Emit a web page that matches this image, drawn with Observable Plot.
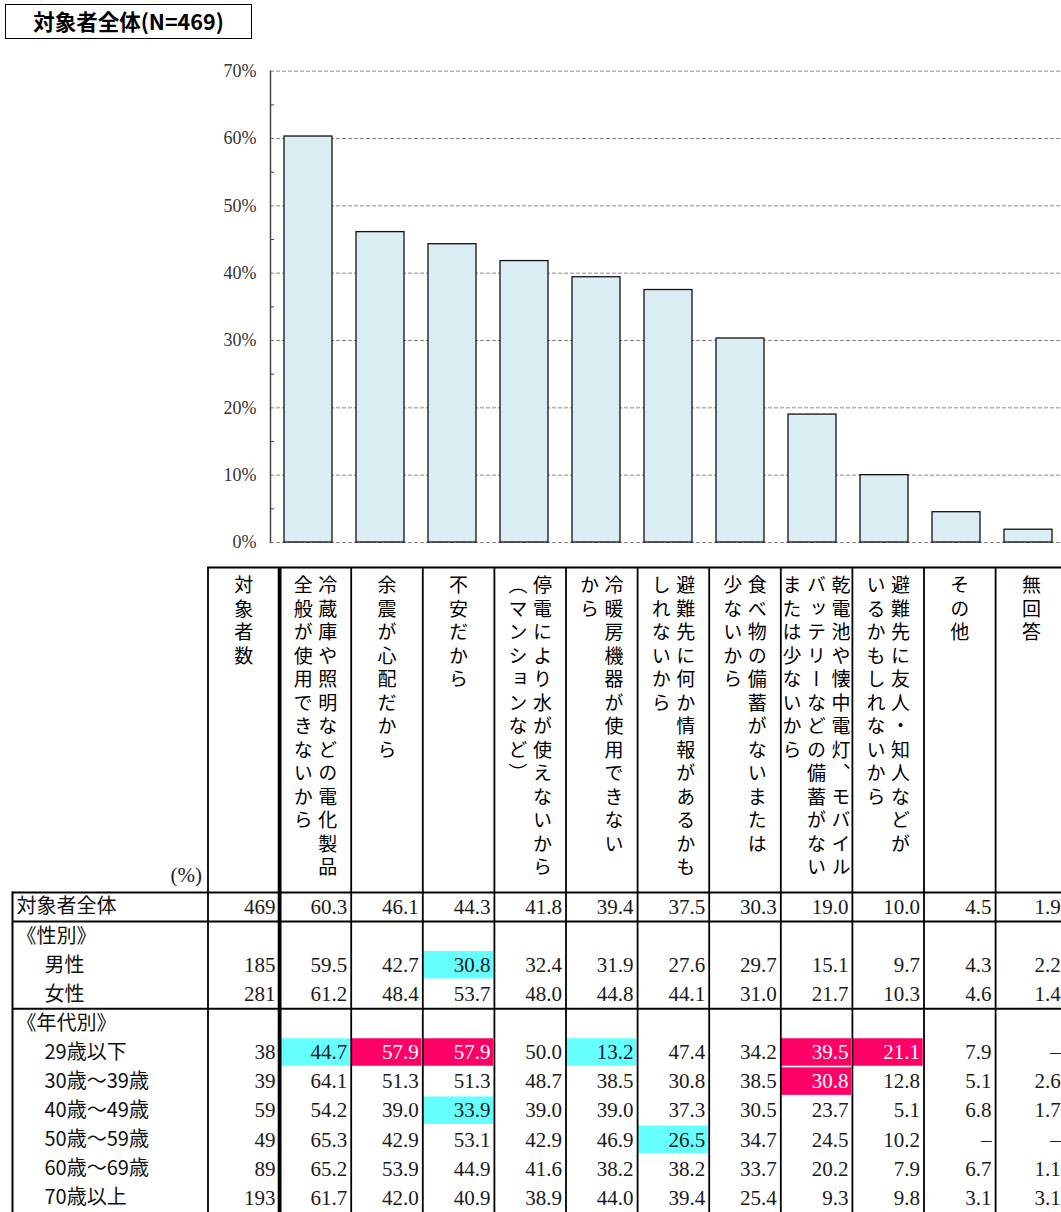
<!DOCTYPE html>
<html>
<head>
<meta charset="utf-8">
<script src="https://cdn.jsdelivr.net/npm/d3@7"></script>
<script src="https://cdn.jsdelivr.net/npm/@observablehq/plot@0.6"></script>
<style>
  html, body { margin: 0; padding: 0; background: #fff; }
  #wrap { position: relative; width: 1061px; height: 1212px; overflow: hidden; background: #fff; }
  #title {
    position: absolute; left: 5px; top: 4px; width: 247px; height: 35px; box-sizing: border-box;
    border: 1.3px solid #000; font-family: "Noto Sans CJK JP", sans-serif; font-weight: bold;
    font-size: 21.5px; line-height: 32px; text-align: center; color: #000; letter-spacing: 0;
  }
  #chart { position: absolute; left: 0; top: 50px; }
  #header { position: absolute; left: 0; top: 560px; }
  #body { position: absolute; left: 0; top: 890px; }
  #wrap svg { max-width: none !important; }
</style>
</head>
<body>
<div id="wrap">
  <div id="title">対象者全体(N=469)</div>
  <div id="chart"></div>
  <div id="header"></div>
  <div id="body"></div>
</div>
<script>
// ---------- data ----------
const answers = [
  "冷蔵庫や照明などの電化製品全般が使用できないから",
  "余震が心配だから",
  "不安だから",
  "停電により水が使えないから（マンションなど）",
  "冷暖房機器が使用できないから",
  "避難先に何か情報があるかもしれないから",
  "食べ物の備蓄がないまたは少ないから",
  "乾電池や懐中電灯、モバイルバッテリーなどの備蓄がないまたは少ないから",
  "避難先に友人・知人などがいるかもしれないから",
  "その他",
  "無回答"
];
const overall = [60.3, 46.1, 44.3, 41.8, 39.4, 37.5, 30.3, 19.0, 10.0, 4.5, 1.9];
const yTicks = [0, 10, 20, 30, 40, 50, 60, 70];
const yMinorTicks = [5, 15, 25, 35, 45, 55, 65];

const headerLines = [
  ["対象者数"],
  ["冷蔵庫や照明などの電化製品", "全般が使用できないから"],
  ["余震が心配だから"],
  ["不安だから"],
  ["停電により水が使えないから", "（マンションなど）"],
  ["冷暖房機器が使用できない", "から"],
  ["避難先に何か情報があるかも", "しれないから"],
  ["食べ物の備蓄がないまたは", "少ないから"],
  ["乾電池や懐中電灯、モバイル", "バッテリーなどの備蓄がない", "または少ないから"],
  ["避難先に友人・知人などが", "いるかもしれないから"],
  ["その他"],
  ["無回答"]
];

const rowLabels = ["対象者全体", "《性別》", "男性", "女性", "《年代別》", "29歳以下", "30歳～39歳", "40歳～49歳", "50歳～59歳", "60歳～69歳", "70歳以上"];
const rowLevel  = [0, 0, 1, 1, 0, 1, 1, 1, 1, 1, 1];
const rowN      = [469, null, 185, 281, null, 38, 39, 59, 49, 89, 193];

const valsTotal  = [60.3, 46.1, 44.3, 41.8, 39.4, 37.5, 30.3, 19.0, 10.0, 4.5, 1.9];
const valsMale   = [59.5, 42.7, 30.8, 32.4, 31.9, 27.6, 29.7, 15.1, 9.7, 4.3, 2.2];
const valsFemale = [61.2, 48.4, 53.7, 48.0, 44.8, 44.1, 31.0, 21.7, 10.3, 4.6, 1.4];
const vals20s    = [44.7, 57.9, 57.9, 50.0, 13.2, 47.4, 34.2, 39.5, 21.1, 7.9, null];
const vals30s    = [64.1, 51.3, 51.3, 48.7, 38.5, 30.8, 38.5, 30.8, 12.8, 5.1, 2.6];
const vals40s    = [54.2, 39.0, 33.9, 39.0, 39.0, 37.3, 30.5, 23.7, 5.1, 6.8, 1.7];
const vals50s    = [65.3, 42.9, 53.1, 42.9, 46.9, 26.5, 34.7, 24.5, 10.2, null, null];
const vals60s    = [65.2, 53.9, 44.9, 41.6, 38.2, 38.2, 33.7, 20.2, 7.9, 6.7, 1.1];
const vals70s    = [61.7, 42.0, 40.9, 38.9, 44.0, 39.4, 25.4, 9.3, 9.8, 3.1, 3.1];

// highlighted cells: [row label, answer number (1-based)]
const lowCells  = [["男性", 3], ["29歳以下", 1], ["29歳以下", 5], ["40歳～49歳", 3], ["50歳～59歳", 6]];
const highCells = [["29歳以下", 2], ["29歳以下", 3], ["29歳以下", 8], ["29歳以下", 9], ["30歳～39歳", 8]];

// ---------- colours ----------
const barFill = "#daedf2";
const lowFill = "#66ffff";
const highFill = "#ff0066";

// ---------- bar chart ----------
const barData = answers.map((a, i) => ({answer: a, value: overall[i]}));
const chart = Plot.plot({
  width: 1061, height: 510,
  marginTop: 20.7, marginBottom: 18, marginLeft: 270, marginRight: 0,
  x: {domain: answers, paddingInner: 0.33, paddingOuter: 0.14, align: 0.6, axis: null},
  y: {domain: [0, 70], label: null},
  style: {fontFamily: "'Liberation Serif', serif", fontSize: "18px", color: "#333", background: "transparent"},
  marks: [
    Plot.ruleY(yTicks, {stroke: "#8a8a8a", strokeWidth: 1, strokeDasharray: "4,2"}),
    Plot.barY(barData, {x: "answer", y: "value", fill: barFill, stroke: "#111", strokeWidth: 1.3}),
    Plot.frame({anchor: "left", stroke: "#444", strokeWidth: 1.5}),
    Plot.axisY(yMinorTicks, {tickSize: -4, tickFormat: () => "", stroke: "#444", label: null}),
    Plot.axisY(yTicks, {tickSize: 0, tickPadding: 14, tickFormat: d => d + "%", fill: "#333", label: null,
      fontSize: 18, fontFamily: "'Liberation Serif', serif"})
  ]
});
document.getElementById("chart").append(chart);

// ---------- table header ----------
const pitch = 24.5;
const headerData = headerLines.flatMap((lines, c) => lines.map((t, j) => ({c, j, n: lines.length, t})));
const headerGroups = d3.groups(headerData, d => d.n + "-" + d.j);
const header = Plot.plot({
  width: 1061, height: 332,
  marginTop: 7, marginBottom: 0, marginLeft: 207.5, marginRight: 0,
  x: {domain: [0, 12], range: [207.5, 1066.7], axis: null},
  style: {fontFamily: "'Noto Sans CJK JP', sans-serif", fontSize: "19px", color: "#000", background: "transparent"},
  marks: [
    Plot.frame({anchor: "top", stroke: "#000", strokeWidth: 2}),
    Plot.ruleX(d3.range(13), {x: d => d, stroke: "#000", strokeWidth: d => d === 1 ? 3.8 : 1.8}),
    ...headerGroups.map(([key, arr]) => {
      const {n, j} = arr[0];
      return Plot.text(arr, {
        x: d => d.c + 0.5, text: "t", frameAnchor: "top", dy: 8,
        dx: ((n - 1) / 2 - j) * pitch, textAnchor: "start", lineAnchor: "bottom", fill: "#000"
      });
    }),
    Plot.text(["(%)"], {frameAnchor: "bottom-left", textAnchor: "end", dx: -6, dy: -11,
      fontFamily: "'Liberation Serif', serif", fontSize: 21, fill: "#222"})
  ]
});
d3.select(header).selectAll("text").each(function() {
  if (this.textContent !== "(%)") {
    this.style.writingMode = "vertical-rl";
    this.style.letterSpacing = "4.5px";
  }
});
document.getElementById("header").append(header);

// ---------- table body ----------
const rowVals = [valsTotal, null, valsMale, valsFemale, null, vals20s, vals30s, vals40s, vals50s, vals60s, vals70s];
const highKey = new Set(highCells.map(([r, a]) => r + "|" + a));
const cells = [];
rowVals.forEach((vals, r) => {
  if (!vals) return;
  cells.push({r, c: 0, text: String(rowN[r]), high: false});
  vals.forEach((v, k) => {
    cells.push({r, c: k + 1, text: v == null ? "–" : v.toFixed(1), high: highKey.has(rowLabels[r] + "|" + (k + 1))});
  });
});
const hi = [
  ...lowCells.map(([r, a]) => ({r: rowLabels.indexOf(r), c: a, fill: lowFill})),
  ...highCells.map(([r, a]) => ({r: rowLabels.indexOf(r), c: a, fill: highFill}))
];
const labelData = rowLabels.map((t, r) => ({t, r, level: rowLevel[r]}));
const numStyle = {textAnchor: "end", fontFamily: "'Liberation Serif', serif", fontSize: 21};

const body = Plot.plot({
  width: 1061, height: 322,
  marginTop: 2, marginBottom: 0, marginLeft: 12, marginRight: 0,
  x: {domain: [0, 12], range: [207.5, 1066.7], axis: null},
  y: {domain: [0, 11], range: [2, 322], axis: null},
  color: {type: "identity"},
  style: {fontFamily: "'Noto Sans CJK JP', sans-serif", fontSize: "20px", color: "#000", background: "transparent"},
  marks: [
    Plot.rect(hi, {x1: d => d.c, x2: d => d.c + 1, y1: d => d.r, y2: d => d.r + 1, fill: "fill", inset: 0.8}),
    Plot.ruleY([0, 1, 4], {y: d => d, stroke: "#000", strokeWidth: 2}),
    Plot.ruleX(d3.range(13), {x: d => d, stroke: "#000", strokeWidth: d => d === 1 ? 3.8 : 1.8}),
    Plot.frame({anchor: "left", stroke: "#000", strokeWidth: 2}),
    Plot.text(labelData.filter(d => d.level === 0), {y: d => d.r + 0.5, text: "t", frameAnchor: "left", dx: 4, textAnchor: "start", fill: "#111"}),
    Plot.text(labelData.filter(d => d.level === 1), {y: d => d.r + 0.5, text: "t", frameAnchor: "left", dx: 32, textAnchor: "start", fill: "#111"}),
    Plot.text(cells.filter(d => d.c < 11), {x: d => d.c + 1, y: d => d.r + 0.5, text: "text", dx: -4,
      fill: d => d.high ? "#ffffff" : "#1a1a1a", ...numStyle}),
    // last column sits at the picture's right edge: keep its numbers inside the frame
    Plot.text(cells.filter(d => d.c === 11), {x: d => d.c + 1, y: d => d.r + 0.5, text: "text", dx: -6.5,
      fill: d => d.high ? "#ffffff" : "#1a1a1a", ...numStyle})
  ]
});
document.getElementById("body").append(body);
</script>
</body>
</html>
